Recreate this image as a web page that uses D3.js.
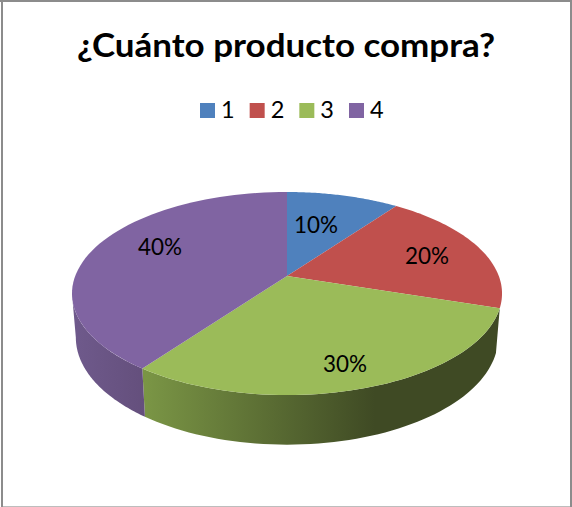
<!DOCTYPE html>
<html>
<head>
<meta charset="utf-8">
<script src="https://cdn.jsdelivr.net/npm/d3@7"></script>
<style>
html,body{margin:0;padding:0;background:#fff;overflow:hidden}
svg{display:block}
text{font-family:Lato,"Open Sans",sans-serif;fill:#000}
</style>
</head>
<body>
<script>
const categories = ["1", "2", "3", "4"];
const shares = [10, 20, 30, 40];
const colors = ["#4f81bd", "#c0504d", "#9bbb59", "#8064a2"];
const titleText = "¿Cuánto producto compra?";

const width = 572, height = 507;
const svg = d3.select("body").append("svg").attr("width", width).attr("height", height);

// Frame: three dark sides and a lighter bottom edge
const frame = svg.append("g");
frame.append("rect").attr("x", 0).attr("y", 0).attr("width", width).attr("height", 2).attr("fill", "#8c8c8c");
frame.append("rect").attr("x", 1).attr("y", 0).attr("width", 2).attr("height", height).attr("fill", "#8c8c8c");
frame.append("rect").attr("x", 570).attr("y", 0).attr("width", 2).attr("height", height).attr("fill", "#8c8c8c");
frame.append("rect").attr("x", 3).attr("y", 506).attr("width", 567).attr("height", 1).attr("fill", "#bdbdbd");

svg.append("text").attr("x", 77).attr("y", 57)
  .attr("font-size", 33).attr("font-weight", 700)
  .attr("textLength", 418).attr("lengthAdjust", "spacingAndGlyphs").text(titleText);

// Legend
const legendX = d3.scalePoint().domain(categories).range([200, 349]);
const legend = svg.append("g").selectAll("g").data(categories).join("g")
  .attr("transform", d => `translate(${legendX(d)},103)`);
legend.append("rect").attr("width", 15).attr("height", 15)
  .attr("fill", (d, i) => colors[i]);
legend.append("text").attr("x", 21).attr("y", 15).attr("font-size", 23.5).text(d => d);

// Perspective projection of a tilted disc: angle 0 is at the back, clockwise.
function disc(cx, cy, rx, ry, k) {
  return a => {
    const u = Math.sin(a), v = Math.cos(a), w = 1 + k * v;
    return [cx + rx * u / w, cy - ry * v / w];
  };
}
const topDisc = disc(287, 276, 211.8, 98.5, 0.1724);
const baseDisc = disc(287, 319, 208, 104, 0.1724);

const slices = d3.pie().sort(null).value(d => d)(shares);
const line = d3.line().curve(d3.curveLinear);
const sweep = (a0, a1) => d3.range(0, 61).map(i => a0 + (a1 - a0) * i / 60);

// Horizontal shading along the rim
const defs = svg.append("defs");
const addGradient = (id, x1, x2, stops) => {
  const g = defs.append("linearGradient").attr("id", id).attr("gradientUnits", "userSpaceOnUse")
    .attr("x1", x1).attr("x2", x2).attr("y1", 0).attr("y2", 0);
  stops.forEach((c, i) => g.append("stop").attr("offset", i / (stops.length - 1)).attr("stop-color", c));
};
addGradient("rimGreen", 146, 375, ["#7a9545", "#3f4a24"]);
addGradient("rimPurple", 72, 146, ["#6f5a8c", "#644f7c"]);

// Rim walls, closed at the left-most point of the disc outline
const leftEdge = Math.PI * 2 * 260 / 360;
const rim = (a0, a1) => {
  const front = sweep(a0, a1).map(topDisc);
  const back = sweep(a1, a0).map(baseDisc);
  return line(front.concat(back)) + "Z";
};
svg.append("path").attr("d", rim(slices[2].startAngle, slices[2].endAngle))
  .attr("fill", "url(#rimGreen)");
svg.append("path").attr("d", rim(slices[3].startAngle, leftEdge))
  .attr("fill", "url(#rimPurple)");

// Top face
svg.append("g").selectAll("path").data(slices).join("path")
  .attr("d", d => line([[287, 276]].concat(sweep(d.startAngle, d.endAngle).map(topDisc))) + "Z")
  .attr("fill", (d, i) => colors[i]);

// Value labels
const labelX = [316, 427, 345, 160];
const labelBase = [233, 264, 372, 255];
svg.append("g").selectAll("text").data(shares).join("text")
  .attr("x", (d, i) => labelX[i] - 22).attr("y", (d, i) => labelBase[i])
  .attr("font-size", 24).attr("textLength", 44).attr("lengthAdjust", "spacingAndGlyphs")
  .text(d => d + "%");
</script>
</body>
</html>
